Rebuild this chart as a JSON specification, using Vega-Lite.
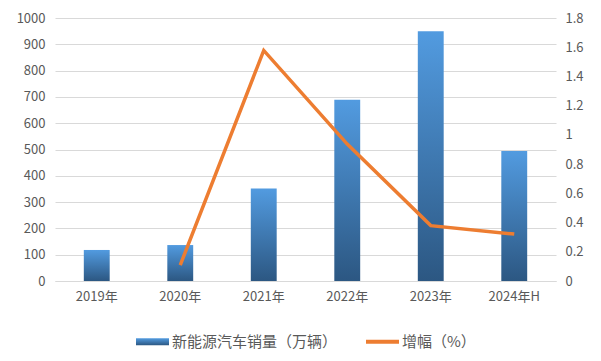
{
  "$schema": "https://vega.github.io/schema/vega-lite/v6.json",
  "width": 501,
  "height": 263,
  "autosize": "none",
  "padding": {"left": 55, "top": 18, "right": 45, "bottom": 80},
  "background": "white",
  "config": {
    "font": "Noto Sans CJK SC",
    "view": {"stroke": null},
    "axis": {"labelColor": "#595959", "labelFontSize": 13, "ticks": false, "domain": false, "title": null}
  },
  "data": {
    "values": [
      {"year": "2019年", "sales": 118, "growth": null},
      {"year": "2020年", "sales": 136.7, "growth": 0.109},
      {"year": "2021年", "sales": 352.1, "growth": 1.578},
      {"year": "2022年", "sales": 688.7, "growth": 0.937},
      {"year": "2023年", "sales": 949.5, "growth": 0.379},
      {"year": "2024年H", "sales": 494.4, "growth": 0.321}
    ]
  },
  "encoding": {
    "x": {
      "field": "year", "type": "nominal", "sort": null,
      "scale": {"paddingInner": 0.69, "paddingOuter": 0.345},
      "axis": {"labelAngle": 0, "labelPadding": 9, "domain": true, "domainColor": "#d9d9d9", "domainWidth": 1, "grid": false}
    }
  },
  "layer": [
    {
      "mark": {
        "type": "bar",
        "fill": {"x1": 0, "y1": 0, "x2": 0, "y2": 1, "gradient": "linear",
          "stops": [{"offset": 0, "color": "#529be0"}, {"offset": 1, "color": "#2c5782"}]}
      },
      "encoding": {
        "y": {
          "field": "sales", "type": "quantitative",
          "scale": {"domain": [0, 1000], "nice": false},
          "axis": {"values": [0,100,200,300,400,500,600,700,800,900,1000], "format": "d", "gridColor": "#d9d9d9", "labelPadding": 10}
        }
      }
    },
    {
      "mark": {"type": "line", "strokeWidth": 3.5},
      "encoding": {
        "y": {
          "field": "growth", "type": "quantitative",
          "scale": {"domain": [0, 1.8], "nice": false},
          "axis": {"orient": "right", "values": [0,0.2,0.4,0.6,0.8,1,1.2,1.4,1.6,1.8], "format": "~g", "grid": false, "labelPadding": 9}
        },
        "color": {
          "datum": "增幅（%）",
          "scale": {"domain": ["新能源汽车销量（万辆）", "增幅（%）"], "range": ["#3f78b3", "#ED7D31"]},
          "legend": {
            "orient": "none", "legendX": 90, "legendY": 316, "direction": "horizontal", "title": null,
            "labelFontSize": 15, "labelColor": "#595959", "labelLimit": 400, "columnPadding": 20, "symbolSize": 1089,
            "labelOffset": 12,
            "encode": {
              "symbols": {"update": {
                "shape": {"signal": "datum.value === '增幅（%）' ? 'stroke' : 'M-1,-0.21H1V0.21H-1Z'"},
                "strokeWidth": {"signal": "datum.value === '增幅（%）' ? 4 : 0"},
                "fill": {"value": {"x1": 0, "y1": 0, "x2": 0, "y2": 1, "gradient": "linear",
                  "stops": [{"offset": 0, "color": "#529be0"}, {"offset": 1, "color": "#2c5782"}]}},
                "stroke": {"signal": "datum.value === '增幅（%）' ? '#ED7D31' : 'transparent'"}
              }}
            }
          }
        }
      }
    }
  ],
  "resolve": {"scale": {"y": "independent"}}
}
